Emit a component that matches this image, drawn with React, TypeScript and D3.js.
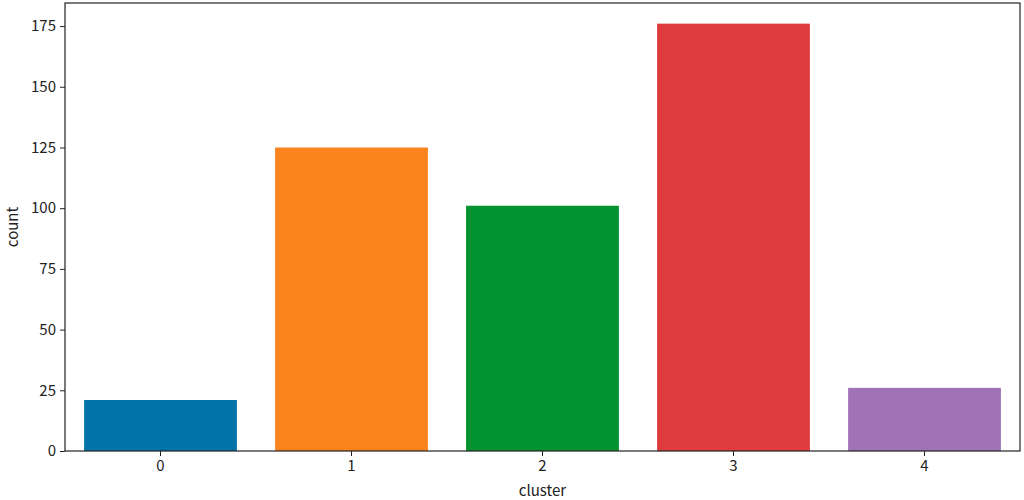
import React, { useRef, useEffect } from 'react';
import * as d3 from 'd3';

const clusters = ['0', '1', '2', '3', '4'];
const counts = [21, 125, 101, 176, 26];
const colors = ['#0173a8', '#fc841f', '#02922f', '#de3b3d', '#9f73b5'];
const yTicks = [0, 25, 50, 75, 100, 125, 150, 175];

const App = () => {
    const svgref = useRef<SVGSVGElement>(null);

    useEffect(() => {
        const margin = { top: 3, right: 4, bottom: 49, left: 65 };
        const width = 1024 - margin.left - margin.right;
        const height = 500 - margin.top - margin.bottom;
        const font = '"Noto Sans CJK SC", "Noto Sans", sans-serif';

        const root = d3.select(svgref.current);
        root.selectAll('*').remove();
        const svg = root.append('g')
            .attr('transform', `translate(${margin.left},${margin.top})`);

        // seaborn style: bars take 0.8 of each slot, half a slot at both ends
        const x = d3.scaleBand()
            .domain(clusters)
            .range([0, width])
            .paddingInner(0.2)
            .paddingOuter(0.1);

        const y = d3.scaleLinear()
            .domain([0, 184.5])
            .range([height, 0]);

        svg.selectAll('rect.bar')
            .data(counts)
            .join('rect')
            .attr('class', 'bar')
            .attr('x', (d, i) => x(clusters[i])!)
            .attr('y', d => y(d))
            .attr('width', x.bandwidth())
            .attr('height', d => height - y(d))
            .attr('fill', (d, i) => colors[i]);

        const xAxis = svg.append('g')
            .attr('transform', `translate(0,${height})`)
            .call(d3.axisBottom(x).tickSize(5).tickPadding(4).tickSizeOuter(0));
        const yAxis = svg.append('g')
            .call(d3.axisLeft(y).tickValues(yTicks).tickSize(5).tickPadding(4).tickSizeOuter(0));

        [xAxis, yAxis].forEach(a => {
            a.select('.domain').remove();
            a.selectAll('text').attr('font-size', 15).attr('font-family', font).attr('fill', '#222');
            a.selectAll('line').attr('stroke', '#222');
        });

        // frame
        svg.append('rect')
            .attr('x', 0).attr('y', 0)
            .attr('width', width).attr('height', height)
            .attr('fill', 'none')
            .attr('stroke', '#222')
            .attr('stroke-width', 1.2);

        svg.append('text')
            .attr('x', width / 2)
            .attr('y', height + 45)
            .attr('text-anchor', 'middle')
            .attr('font-size', 15)
            .attr('font-family', font)
            .attr('fill', '#222')
            .text('cluster');

        svg.append('text')
            .attr('transform', `translate(${-47},${height / 2}) rotate(-90)`)
            .attr('text-anchor', 'middle')
            .attr('font-size', 15)
            .attr('font-family', font)
            .attr('fill', '#222')
            .text('count');
    }, []);

    return (
        <div style={{ position: 'absolute', left: 0, top: 0 }}>
            <svg ref={svgref} width={1024} height={500} style={{ display: 'block' }}></svg>
        </div>
    );
};

export default App;
